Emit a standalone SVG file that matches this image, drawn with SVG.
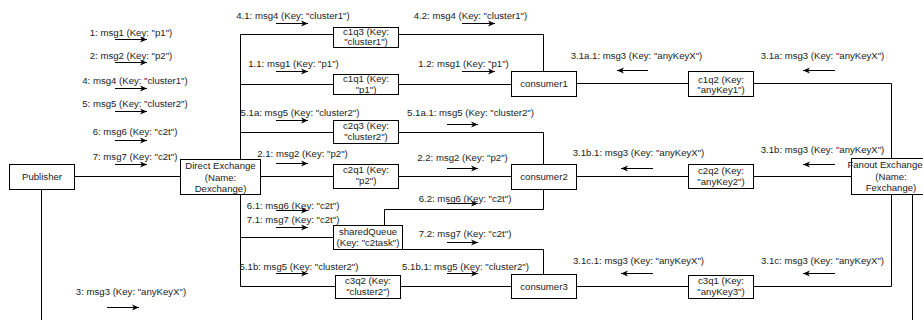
<svg xmlns="http://www.w3.org/2000/svg" width="923" height="320" viewBox="0 0 923 320">
<style>
text{font-family:"Liberation Sans",Arial,sans-serif;font-size:9.6px;fill:#222;text-anchor:middle}
.box{fill:#fff;stroke:#000;stroke-width:1}
.conn{fill:none;stroke:#000;stroke-width:1}
.arr{fill:none;stroke:#000;stroke-width:1;marker-end:url(#ah)}
</style>
<defs>
<marker id="ah" markerUnits="userSpaceOnUse" markerWidth="8" markerHeight="8" refX="7" refY="4" orient="auto">
<path d="M0,1 L7,4 L0,7 L2,4 Z" fill="#000"/>
</marker>
</defs>
<rect width="923" height="320" fill="#fff"/>
<g id="connectors">
<path class="conn" d="M74,176.5 H180"/>
<path class="conn" d="M41.5,189 V320"/>
<path class="conn" d="M912.5,194 V320"/>
<path class="conn" d="M240.5,159 V34.5 H333"/>
<path class="conn" d="M240.5,159 V84.5 H333"/>
<path class="conn" d="M240.5,159 V132.5 H333"/>
<path class="conn" d="M240.5,194 V237.5 H333"/>
<path class="conn" d="M240.5,194 V286.5 H335"/>
<path class="conn" d="M260,176.5 H333"/>
<path class="conn" d="M398,34.5 H543.5 V71"/>
<path class="conn" d="M398,84.5 H511"/>
<path class="conn" d="M398,132.5 H543.5 V164"/>
<path class="conn" d="M398,176.5 H511"/>
<path class="conn" d="M384.5,225 V209.5 H543.5 V189"/>
<path class="conn" d="M402,249.5 H543.5 V274"/>
<path class="conn" d="M400,286.5 H511"/>
<path class="conn" d="M688,83.5 H576"/>
<path class="conn" d="M891.5,158 V83.5 H753"/>
<path class="conn" d="M851,176.5 H753"/>
<path class="conn" d="M688,176.5 H576"/>
<path class="conn" d="M891.5,194 V286.5 H753"/>
<path class="conn" d="M688,286.5 H576"/>
</g>
<g id="labels">
<text x="131" y="35.5">1: msg1 (Key: "p1")</text>
<line class="arr" x1="115" y1="39.5" x2="147" y2="39.5"/>
<text x="131" y="59">2: msg2 (Key: "p2")</text>
<line class="arr" x1="115" y1="62.5" x2="147" y2="62.5"/>
<text x="135" y="83.5">4: msg4 (Key: "cluster1")</text>
<line class="arr" x1="115" y1="88.5" x2="147" y2="88.5"/>
<text x="135" y="107">5: msg5 (Key: "cluster2")</text>
<line class="arr" x1="115" y1="111.5" x2="147" y2="111.5"/>
<text x="135" y="135">6: msg6 (Key: "c2t")</text>
<line class="arr" x1="115" y1="140.5" x2="147" y2="140.5"/>
<text x="135" y="160">7: msg7 (Key: "c2t")</text>
<line class="arr" x1="115" y1="164.5" x2="147" y2="164.5"/>
<text x="131" y="294.5">3: msg3 (Key: "anyKeyX")</text>
<line class="arr" x1="107" y1="307.5" x2="139" y2="307.5"/>

<text x="293" y="18.5">4.1: msg4 (Key: "cluster1")</text>
<line class="arr" x1="276" y1="23.5" x2="308" y2="23.5"/>
<text x="293.5" y="66.5">1.1: msg1 (Key: "p1")</text>
<line class="arr" x1="276" y1="71.5" x2="308" y2="71.5"/>
<text x="300" y="115.5">5.1a: msg5 (Key: "cluster2")</text>
<line class="arr" x1="276" y1="120.5" x2="308" y2="120.5"/>
<text x="302.5" y="156.5">2.1: msg2 (Key: "p2")</text>
<line class="arr" x1="276" y1="163.5" x2="308" y2="163.5"/>
<text x="293" y="208.5">6.1: msg6 (Key: "c2t")</text>
<line class="arr" x1="276" y1="210.5" x2="308" y2="210.5"/>
<text x="293" y="222.5">7.1: msg7 (Key: "c2t")</text>
<line class="arr" x1="276" y1="227.5" x2="308" y2="227.5"/>
<text x="299" y="269.5">5.1b: msg5 (Key: "cluster2")</text>
<line class="arr" x1="276" y1="273.5" x2="308" y2="273.5"/>

<text x="470.5" y="18.5">4.2: msg4 (Key: "cluster1")</text>
<line class="arr" x1="462" y1="23.5" x2="495" y2="23.5"/>
<text x="463.5" y="66.5">1.2: msg1 (Key: "p1")</text>
<line class="arr" x1="462" y1="71.5" x2="495" y2="71.5"/>
<text x="470.5" y="115.5">5.1a.1: msg5 (Key: "cluster2")</text>
<line class="arr" x1="447" y1="124.5" x2="478" y2="124.5"/>
<text x="462.5" y="160.5">2.2: msg2 (Key: "p2")</text>
<line class="arr" x1="447" y1="168.5" x2="478" y2="168.5"/>
<text x="465" y="201.5">6.2: msg6 (Key: "c2t")</text>
<line class="arr" x1="447" y1="203.5" x2="478" y2="203.5"/>
<text x="465" y="236.5">7.2: msg7 (Key: "c2t")</text>
<line class="arr" x1="447" y1="242.5" x2="478" y2="242.5"/>
<text x="465.5" y="269.5">5.1b.1: msg5 (Key: "cluster2")</text>
<line class="arr" x1="447" y1="273.5" x2="478" y2="273.5"/>

<text x="636.5" y="58.5">3.1a.1: msg3 (Key: "anyKeyX")</text>
<line class="arr" x1="648" y1="70.5" x2="617" y2="70.5"/>
<text x="822.5" y="58.5">3.1a: msg3 (Key: "anyKeyX")</text>
<line class="arr" x1="835" y1="70.5" x2="803" y2="70.5"/>
<text x="638.5" y="155.5">3.1b.1: msg3 (Key: "anyKeyX")</text>
<line class="arr" x1="653" y1="168.5" x2="621" y2="168.5"/>
<text x="822.5" y="152.5">3.1b: msg3 (Key: "anyKeyX")</text>
<line class="arr" x1="835" y1="164.5" x2="803" y2="164.5"/>
<text x="638.5" y="263.5">3.1c.1: msg3 (Key: "anyKeyX")</text>
<line class="arr" x1="653" y1="273.5" x2="621" y2="273.5"/>
<text x="822.5" y="263.5">3.1c: msg3 (Key: "anyKeyX")</text>
<line class="arr" x1="835" y1="273.5" x2="803" y2="273.5"/>
</g>
<g id="publisher"><rect class="box" x="9.5" y="164.5" width="65" height="25"/><text x="42" y="180">Publisher</text></g>
<g id="direct-exchange"><rect class="box" x="180.5" y="159.5" width="80" height="35"/><text x="220.5" y="169">Direct Exchange</text><text x="220.5" y="180.5">(Name:</text><text x="220.5" y="192">Dexchange)</text></g>
<g id="fanout-exchange"><rect class="box" x="851.5" y="158.5" width="80" height="36"/><text x="885" y="168">Fanout Exchange</text><text x="891" y="179.5">(Name:</text><text x="891" y="191">Fexchange)</text></g>
<g id="c1q3"><rect class="box" x="333.5" y="27.5" width="65" height="20"/><text x="366" y="35">c1q3 (Key:</text><text x="366" y="45">"cluster1")</text></g>
<g id="c1q1"><rect class="box" x="333.5" y="74.5" width="65" height="20"/><text x="366" y="82">c1q1 (Key:</text><text x="366" y="92.5">"p1")</text></g>
<g id="consumer1"><rect class="box" x="511.5" y="71.5" width="65" height="25"/><text x="544" y="87">consumer1</text></g>
<g id="c1q2"><rect class="box" x="688.5" y="71.5" width="65" height="25"/><text x="721" y="82.5">c1q2 (Key:</text><text x="721" y="93">"anyKey1")</text></g>
<g id="c2q3"><rect class="box" x="333.5" y="120.5" width="65" height="23"/><text x="366" y="129">c2q3 (Key:</text><text x="366" y="140">"cluster2")</text></g>
<g id="c2q1"><rect class="box" x="333.5" y="164.5" width="65" height="24"/><text x="366" y="173">c2q1 (Key:</text><text x="366" y="184">"p2")</text></g>
<g id="consumer2"><rect class="box" x="511.5" y="164.5" width="65" height="25"/><text x="544" y="180">consumer2</text></g>
<g id="c2q2"><rect class="box" x="688.5" y="164.5" width="65" height="24"/><text x="721" y="173.5">c2q2 (Key:</text><text x="721" y="184.5">"anyKey2")</text></g>
<g id="sharedQueue"><rect class="box" x="333.5" y="225.5" width="69" height="24"/><text x="368" y="235">sharedQueue</text><text x="368" y="246">(Key: "c2task")</text></g>
<g id="c3q2"><rect class="box" x="335.5" y="275.5" width="65" height="23"/><text x="368" y="284">c3q2 (Key:</text><text x="368" y="295">"cluster2")</text></g>
<g id="consumer3"><rect class="box" x="511.5" y="274.5" width="65" height="24"/><text x="544" y="290">consumer3</text></g>
<g id="c3q1"><rect class="box" x="688.5" y="275.5" width="65" height="23"/><text x="721" y="284">c3q1 (Key:</text><text x="721" y="295">"anyKey3")</text></g>
</svg>
